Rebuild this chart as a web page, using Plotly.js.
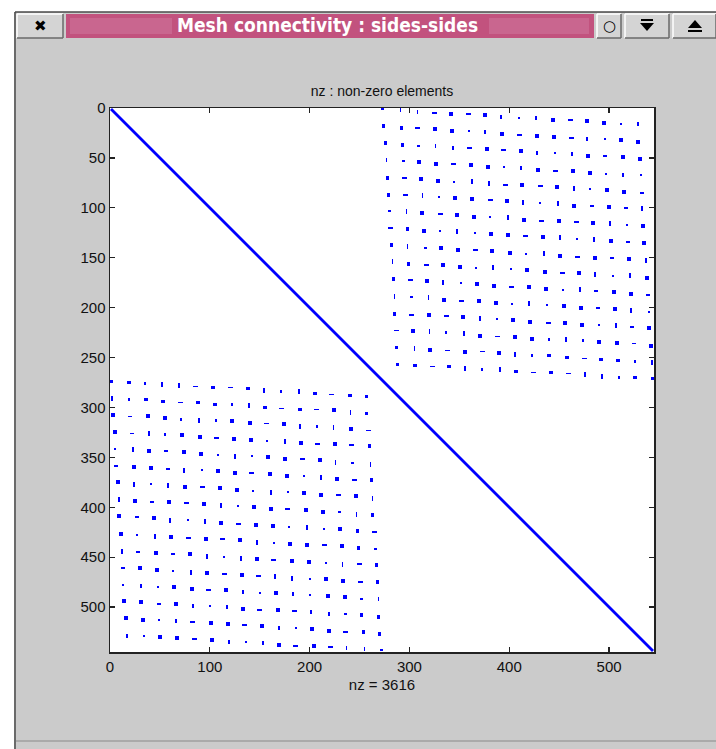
<!DOCTYPE html>
<html>
<head>
<meta charset="utf-8">
<script src="https://cdn.plot.ly/plotly-3.0.1.min.js"></script>
<style>
html,body{margin:0;padding:0;background:#cbcbcb;}
#chart{width:716px;height:749px;}
.scatterlayer path.point{shape-rendering:crispEdges;}
</style>
</head>
<body>
<div id="chart"></div>
<script>
// ---------------- data ----------------
const matrixSize = 545;
const windowTitle = "Mesh connectivity : sides-sides";
const plotTitle = "nz : non-zero elements";
const nzLabel = "nz = 3616";
const xTickVals = [0, 100, 200, 300, 400, 500];
const yTickVals = [0, 50, 100, 150, 200, 250, 300, 350, 400, 450, 500];
const diagIdx = [1, 544];

// upper-right block: row index / column index / rendered dot shape of each dot (s square, v vertical, h horizontal, o tiny)
const urRows = [
[1,2,4,5,6,6,7,9,10,10,12,12,13,15,16,16],
[18,20,20,21,23,23,24,26,27,28,29,30,31,31,32,34],
[35,37,38,38,40,40,41,42,43,45,45,46,48,48,49,51],
[52,53,54,56,56,57,59,59,60,62,63,63,65,66,67,67],
[70,70,71,73,74,74,76,77,77,78,79,81,81,82,84,85],
[87,87,88,89,90,91,92,93,95,95,96,98,98,99,100,101],
[103,104,105,106,107,109,109,110,112,113,113,114,115,116,117,118],
[120,121,123,123,124,125,126,127,128,129,130,131,132,133,134,135],
[137,139,140,140,142,142,143,145,146,146,148,149,150,150,151,153],
[154,156,157,157,159,160,160,161,162,164,165,165,167,168,168,170],
[171,172,173,175,175,176,178,179,179,181,182,182,183,184,186,187],
[189,189,190,192,193,193,195,196,196,197,198,200,200,201,203,204],
[206,207,207,208,209,211,211,212,214,215,215,217,217,218,219,220],
[223,223,224,225,226,228,229,229,231,232,232,233,234,235,236,238],
[240,241,242,243,244,244,245,247,248,248,250,251,252,253,254,255],
[257,258,259,259,261,262,262,264,265,265,266,267,269,270,270,271]
];
const urCols = [
[273,291,308,325,342,359,376,392,410,427,444,461,478,495,512,529],
[274,292,308,326,343,360,376,393,410,428,445,462,478,496,512,529],
[276,293,309,326,344,360,378,394,412,428,446,463,479,496,514,531],
[277,294,310,327,344,362,379,395,412,429,446,464,481,497,514,532],
[278,295,312,329,345,363,380,396,413,431,448,465,481,498,515,533],
[279,296,313,330,346,363,381,398,414,431,449,465,483,500,517,533],
[280,297,313,331,348,365,381,399,415,432,450,467,484,501,518,534],
[281,298,315,331,348,366,382,399,416,434,451,468,485,502,519,535],
[282,298,316,332,349,366,383,401,417,435,451,468,486,503,520,537],
[283,299,317,334,351,367,384,402,418,436,453,470,486,504,521,538],
[284,301,318,334,352,368,385,402,420,437,454,471,487,505,522,539],
[285,302,319,335,352,370,387,403,420,438,455,472,489,506,522,540],
[285,302,320,337,354,371,388,404,421,439,456,473,490,507,523,540],
[287,304,320,337,355,371,388,406,423,440,457,474,490,508,525,542],
[287,305,321,338,356,373,390,406,423,440,458,475,492,509,526,543],
[288,306,323,340,356,373,391,407,424,442,459,476,493,510,526,544]
];
const urKinds = [
"ovvhshsvovshssov","sshssovshsshvoss","ssovvhshsvovshss","vosshssovshssovo",
"shssovvhshsvossh","shvosshsvovshshv","ovshssovshshsvos","hssovosshsvovshs",
"svosshssovshshsv","vshssovosshsvovs","shsvosshssovhssh","vovshssovosshsvo",
"shshsvosshssovhs","hsvovshssovosshs","ovshshsvosshssov","sshsvovshshvvoss"
];

// lower-left block
const llRows = [
[274,275,276,277,278,279,280,280,281,283,284,284,286,287,288,289],
[291,292,292,294,295,295,297,297,298,300,301,302,302,303,305,306],
[308,309,309,311,312,313,313,314,316,316,317,319,319,320,322,323],
[325,326,326,327,328,330,331,332,333,334,334,336,337,337,338,339],
[342,342,344,344,345,347,348,349,349,350,352,352,353,355,356,357],
[359,360,361,362,363,363,364,366,366,367,369,369,370,372,373,373],
[375,377,377,378,380,380,381,383,384,385,385,386,388,388,389,391],
[392,394,395,395,396,397,398,399,400,402,402,403,405,405,407,408],
[409,410,411,413,413,414,416,417,418,419,420,420,422,422,424,425],
[427,428,429,430,431,432,432,433,435,436,437,438,438,439,441,442],
[444,445,446,447,447,449,450,451,452,453,454,455,456,457,457,458],
[461,461,463,464,465,466,467,468,469,469,471,472,472,474,475,475],
[478,479,480,480,482,483,483,485,486,486,487,488,489,490,492,492],
[494,495,497,497,499,499,500,502,503,503,504,505,507,507,508,510],
[511,513,513,514,515,516,517,518,519,521,521,522,524,525,525,527],
[529,529,530,531,532,533,535,535,536,538,539,539,540,541,542,543]
];
const llCols = [
[1,19,35,52,69,86,103,121,138,154,171,189,205,222,240,257],
[2,19,36,53,71,88,105,122,139,155,172,190,207,224,241,257],
[3,20,38,55,71,89,106,122,140,157,174,190,207,224,241,259],
[5,22,39,55,72,90,107,124,141,157,175,191,208,225,242,260],
[5,23,39,56,74,91,108,125,142,158,175,193,210,226,243,261],
[6,24,41,58,74,92,108,125,142,160,177,194,211,227,245,262],
[8,24,41,58,75,93,110,127,143,161,178,194,211,229,246,263],
[9,25,42,59,77,94,111,128,144,161,178,196,213,230,247,263],
[9,27,44,60,78,95,111,129,146,163,179,197,214,230,248,265],
[11,27,45,61,79,96,113,130,147,164,180,197,215,232,249,266],
[12,28,46,63,80,97,114,131,147,164,182,199,216,233,250,267],
[13,30,47,63,81,97,115,132,149,165,182,200,216,233,251,268],
[13,31,48,64,82,99,116,133,150,166,183,200,218,235,252,269],
[14,31,49,66,83,100,117,133,150,168,185,201,219,236,252,269],
[16,33,49,66,83,101,118,135,152,169,186,202,219,236,254,270],
[17,34,50,67,85,102,119,136,153,169,186,204,221,237,255,272]
];
const llKinds = [
"ssovvhshsvovshss","vosshssovshshsvo","shssovosshsvovsh","shvosshssovshshs",
"ovshssovosshsvov","hsshvosshssovshs","svovshssovosshsv","vshshsvosshssovs",
"shsvovshssovossh","sovshshsvosshsso","vhshsvovshssovhs","hssovshshvvosshs",
"ovosshsvosvossov","sshsvovshshvvoss","ssovhsshsvosshss","vosshsvovshshvvo"
];

// ---------------- build traces ----------------
const BLUE = "#0000ff";
const groups = {s:{x:[],y:[]}, v:{x:[],y:[]}, h:{x:[],y:[]}, o:{x:[],y:[]}};
function addBlock(rows, cols, kinds){
  for (let r = 0; r < rows.length; r++){
    for (let c = 0; c < rows[r].length; c++){
      const k = kinds[r][c];
      groups[k].x.push(cols[r][c]);
      groups[k].y.push(rows[r][c]);
    }
  }
}
addBlock(urRows, urCols, urKinds);
addBlock(llRows, llCols, llKinds);

const markerStyles = {
  s: {symbol:"square", size:3.9, color:BLUE, line:{width:0}},
  o: {symbol:"square", size:2.2, color:BLUE, line:{width:0}},
  v: {symbol:"line-ns", size:3.4, color:BLUE, line:{width:1.8, color:BLUE}},
  h: {symbol:"line-ew", size:3.4, color:BLUE, line:{width:1.8, color:BLUE}}
};

const traces = [{
  type:"scatter", mode:"lines", x:diagIdx, y:diagIdx,
  line:{color:BLUE, width:2.8}, hoverinfo:"skip", showlegend:false
}];
["s","v","h","o"].forEach(k => {
  traces.push({type:"scatter", mode:"markers", x:groups[k].x, y:groups[k].y,
    marker:markerStyles[k], hoverinfo:"skip", showlegend:false, cliponaxis:true});
});

// ---------------- window chrome (pixel helpers) ----------------
const W = 716, H = 749, L = 110, R = 62, T = 108, B = 97;
const PW = W - L - R, PH = H - T - B;
const px = x => (x - L) / PW;
const py = y => (H - B - y) / PH;
function rect(x0,y0,x1,y1,fill,lc,lw){
  return {type:"rect", xref:"paper", yref:"paper", x0:px(x0), x1:px(x1), y0:py(y1), y1:py(y0),
    fillcolor:fill, line:{color:lc||fill, width:lw||0}, layer:"above"};
}
function seg(x0,y0,x1,y1,color,w){
  return {type:"line", xref:"paper", yref:"paper", x0:px(x0), x1:px(x1), y0:py(y0), y1:py(y1),
    line:{color:color, width:w}, layer:"above"};
}
function bevelButton(x0,y0,x1,y1){
  return [rect(x0,y0,x1,y1,"#d4d4d4"),
    seg(x0,y0,x1,y0,"#ffffff",1.5), seg(x0,y0,x0,y1,"#ffffff",1.5),
    seg(x0,y1,x1,y1,"#6a6a6a",1.5), seg(x1,y0,x1,y1,"#6a6a6a",1.5)];
}
function label(x,y,text,size,color,family){
  return {xref:"paper", yref:"paper", x:px(x), y:py(y), text:text, showarrow:false,
    xanchor:"center", yanchor:"middle", font:{size:size, color:color, family:family||"Liberation Sans, Arial, sans-serif"}};
}

const shapes = [
  rect(0,0,716,12,"#ffffff"),
  rect(0,0,14,749,"#ffffff"),
  seg(15,12,15,749,"#4a4a4a",1.5),
  seg(15,12,716,12,"#4a4a4a",1.5),
  seg(16,741,716,741,"#8a8a8a",1.2),
  ...bevelButton(17,14,63,38),
  rect(66,14,594,38,"#c2527e"),
  rect(70,18,172,34,"#c9668f"),
  rect(489,18,589,34,"#c9668f"),
  ...bevelButton(597,14,621,38),
  ...bevelButton(625,14,669,38),
  ...bevelButton(673,14,716,38),
  // minimise glyph: bar above down triangle
  rect(641,19,653,21,"#000000"),
  {type:"path", xref:"paper", yref:"paper",
   path:`M ${px(640)} ${py(23)} L ${px(654)} ${py(23)} L ${px(647)} ${py(31)} Z`,
   fillcolor:"#000000", line:{width:0}, layer:"above"},
  // eject glyph: up triangle above bar
  {type:"path", xref:"paper", yref:"paper",
   path:`M ${px(688)} ${py(28)} L ${px(702)} ${py(28)} L ${px(695)} ${py(20)} Z`,
   fillcolor:"#000000", line:{width:0}, layer:"above"},
  rect(688,30,702,32,"#000000")
];

const annotations = [
  label(40,26,"✖",15,"#000000","DejaVu Sans"),
  label(327,25,"<b>"+windowTitle+"</b>",19,"#ffffff","Liberation Sans Narrow, DejaVu Sans Condensed, sans-serif"),
  label(609,26,"○",15,"#000000","DejaVu Sans")
];

const axisCommon = {
  showgrid:false, zeroline:false, showline:true, linecolor:"#222222", linewidth:1.5,
  mirror:"ticks", ticks:"inside", ticklen:5, tickwidth:1.2, tickcolor:"#222222",
  tickfont:{family:"Liberation Sans, Arial, sans-serif", size:15, color:"#111111"},
  fixedrange:true
};

const layout = {
  width:W, height:H, autosize:false,
  margin:{l:L, r:R, t:T, b:B, pad:0},
  paper_bgcolor:"#cbcbcb", plot_bgcolor:"#ffffff",
  showlegend:false,
  title:{text:plotTitle, x:(L + PW/2)/W, xanchor:"center", y:1 - 91/H, yanchor:"middle",
    font:{family:"Liberation Sans, Arial, sans-serif", size:14, color:"#111111"}},
  xaxis:Object.assign({}, axisCommon, {range:[0, matrixSize], tickvals:xTickVals,
    title:{text:nzLabel, standoff:6, font:{family:"Liberation Sans, Arial, sans-serif", size:15, color:"#111111"}}}),
  yaxis:Object.assign({}, axisCommon, {range:[matrixSize, 0], tickvals:yTickVals}),
  shapes:shapes,
  annotations:annotations
};

Plotly.newPlot("chart", traces, layout, {displayModeBar:false, staticPlot:true});
</script>
</body>
</html>
